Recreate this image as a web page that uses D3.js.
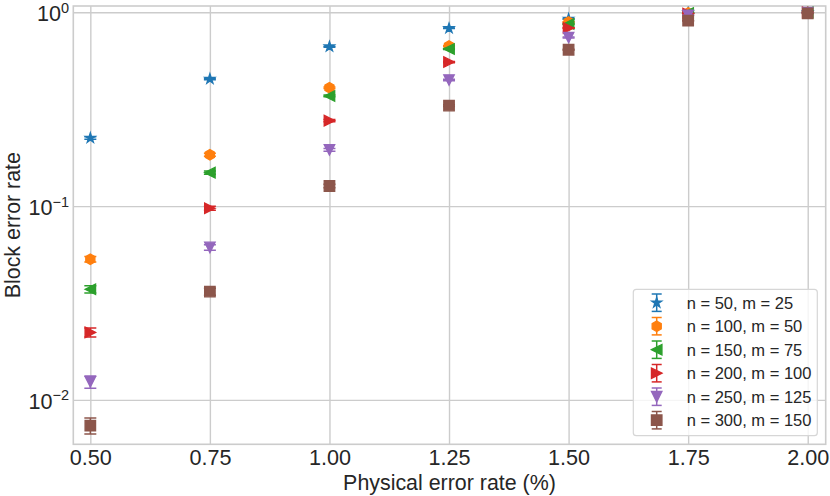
<!DOCTYPE html>
<html><head><meta charset="utf-8">
<script src="https://cdn.jsdelivr.net/npm/d3@7"></script>
<style>
body{margin:0;background:#fff}
svg{display:block;font-family:"Liberation Sans",Arial,sans-serif}
</style>
</head><body><svg id="c" width="830" height="496"></svg>
<script>
// ---------- data ----------
const xValues = [0.5, 0.75, 1.0, 1.25, 1.5, 1.75, 2.0];
const seriesLabels = ["n = 50, m = 25", "n = 100, m = 50", "n = 150, m = 75",
                      "n = 200, m = 100", "n = 250, m = 125", "n = 300, m = 150"];
const bler_n50  = [0.2247, 0.453, 0.665, 0.827, 0.924, 0.995, 1.0];
const bler_n100 = [0.0532, 0.184, 0.408, 0.670, 0.891, 0.993, 1.0];
const bler_n150 = [0.0372, 0.1488, 0.370, 0.647, 0.870, 0.990, 0.9995];
const bler_n200 = [0.0223, 0.0975, 0.276, 0.554, 0.830, 0.985, 0.999];
const bler_n250 = [0.0124, 0.0612, 0.195, 0.447, 0.741, 0.965, 0.997];
const bler_n300 = [0.00736, 0.0362, 0.127, 0.330, 0.641, 0.905, 0.988];
const err_n50  = [0.0034, 0.0041, 0.0039, 0.0031, 0.0022, 0.0006, 0.0];
const err_n100 = [0.0018, 0.0032, 0.0040, 0.0038, 0.0025, 0.0007, 0.0];
const err_n150 = [0.0016, 0.0029, 0.0039, 0.0039, 0.0028, 0.0008, 0.0002];
const err_n200 = [0.0012, 0.0024, 0.0037, 0.0041, 0.0031, 0.0010, 0.0003];
const err_n250 = [0.0009, 0.0020, 0.0032, 0.0041, 0.0036, 0.0015, 0.0005];
const err_n300 = [0.0007, 0.0015, 0.0027, 0.0038, 0.0039, 0.0024, 0.0009];
const xTicks = [0.5, 0.75, 1.0, 1.25, 1.5, 1.75, 2.0];
const xTickLabels = ["0.50", "0.75", "1.00", "1.25", "1.50", "1.75", "2.00"];
const yTicks = [1, 0.1, 0.01];
const yTickExponents = ["0", "\u22121", "\u22122"];
const xLabel = "Physical error rate (%)";
const yLabel = "Block error rate";

// ---------- style ----------
const colors = ["#1f77b4", "#ff7f0e", "#2ca02c", "#d62728", "#9467bd", "#8c564b"];
const shapes = ["star", "hexagon", "triLeft", "triRight", "triDown", "square"];
const values = [bler_n50, bler_n100, bler_n150, bler_n200, bler_n250, bler_n300];
const errors = [err_n50, err_n100, err_n150, err_n200, err_n250, err_n300];
const textColor = "#262626";
const gridColor = "#cccccc";

const L = 73.3, R = 825.7, T = 6, B = 444.3;
const svg = d3.select("#c");

const x = d3.scaleLinear().domain([0.4644, 2.0376]).range([L, R]);
const y = d3.scaleLog().domain([0.0059, 1.0777]).range([B, T]);

const MS = 10.5; // marker size px
function markerPath(shape, s) {
  const h = s / 2;
  const pts = [];
  if (shape === "star") {
    const inner = h * 0.381966;
    for (let k = 0; k < 10; k++) {
      const r = k % 2 === 0 ? h : inner;
      const a = -Math.PI / 2 + k * Math.PI / 5;
      pts.push([r * Math.cos(a), r * Math.sin(a)]);
    }
  } else if (shape === "hexagon") {
    for (let k = 0; k < 6; k++) {
      const a = -Math.PI / 2 + k * Math.PI / 3;
      pts.push([h * Math.cos(a), h * Math.sin(a)]);
    }
  } else if (shape === "triLeft") {
    pts.push([-h, 0], [h, -h], [h, h]);
  } else if (shape === "triRight") {
    pts.push([h, 0], [-h, -h], [-h, h]);
  } else if (shape === "triDown") {
    pts.push([0, h], [-h, -h], [h, -h]);
  } else {
    pts.push([-h, -h], [h, -h], [h, h], [-h, h]);
  }
  return "M" + pts.map(p => p[0].toFixed(2) + "," + p[1].toFixed(2)).join("L") + "Z";
}

// clip
svg.append("defs").append("clipPath").attr("id", "plotclip")
  .append("rect").attr("x", L).attr("y", T).attr("width", R - L).attr("height", B - T);

// grid via axes
const gx = svg.append("g").attr("transform", `translate(0,${B})`)
  .call(d3.axisBottom(x).tickValues(xTicks).tickSize(-(B - T)).tickFormat((d, i) => xTickLabels[i]));
gx.select(".domain").remove();
gx.selectAll(".tick line").attr("stroke", gridColor).attr("stroke-width", 1.4);
gx.selectAll(".tick text").attr("fill", textColor).attr("font-size", 21.6)
  .attr("y", 21.2).attr("dy", 0).attr("font-family", '"Liberation Sans",Arial,sans-serif');

const gy = svg.append("g").attr("transform", `translate(${L},0)`)
  .call(d3.axisLeft(y).tickValues(yTicks).tickSize(-(R - L)).tickFormat(() => ""));
gy.select(".domain").remove();
gy.selectAll(".tick line").attr("stroke", gridColor).attr("stroke-width", 1.4);
gy.selectAll(".tick text").each(function (d, i) {
  const t = d3.select(this);
  t.text(null).attr("x", -4.3).attr("dy", 0).attr("y", 8.3)
    .attr("fill", textColor).attr("text-anchor", "end")
    .attr("font-family", '"Liberation Sans",Arial,sans-serif');
  t.append("tspan").attr("font-size", 21.6).text("10");
  t.append("tspan").attr("font-size", 14.5).attr("dy", -8.3).text(yTickExponents[i]);
});

// spines
svg.append("rect").attr("x", L).attr("y", T).attr("width", R - L).attr("height", B - T)
  .attr("fill", "none").attr("stroke", gridColor).attr("stroke-width", 1.6);

// data
const plot = svg.append("g").attr("clip-path", "url(#plotclip)");
values.forEach((vals, si) => {
  const g = plot.append("g");
  const c = colors[si];
  vals.forEach((v, j) => {
    const e = errors[si][j];
    const cx = x(xValues[j]);
    if (e > 0) {
      const y1 = y(v - e), y2 = y(Math.min(v + e, 1.2));
      g.append("line").attr("x1", cx).attr("x2", cx).attr("y1", y1).attr("y2", y2)
        .attr("stroke", c).attr("stroke-width", 1.5);
      [y1, y2].forEach(yy => g.append("line").attr("x1", cx - 6).attr("x2", cx + 6)
        .attr("y1", yy).attr("y2", yy).attr("stroke", c).attr("stroke-width", 1.5));
    }
  });
  vals.forEach((v, j) => {
    g.append("path").attr("d", markerPath(shapes[si], MS))
      .attr("transform", `translate(${x(xValues[j])},${y(v)})`)
      .attr("fill", c).attr("stroke", c).attr("stroke-width", 1.3).attr("stroke-linejoin", "miter");
  });
});

// axis labels
svg.append("text").attr("x", (L + R) / 2).attr("y", 490).attr("text-anchor", "middle")
  .attr("font-size", 21.4).attr("fill", textColor).text(xLabel);
svg.append("text").attr("transform", `translate(19.8,${(T + B) / 2}) rotate(-90)`)
  .attr("text-anchor", "middle").attr("font-size", 21.4).attr("fill", textColor).text(yLabel);

// legend
const lg = svg.append("g");
lg.append("rect").attr("x", 633.3).attr("y", 289.3).attr("width", 184).attr("height", 146.4)
  .attr("rx", 3).attr("fill", "#fff").attr("fill-opacity", 0.8)
  .attr("stroke", "#d6d6d6").attr("stroke-width", 1.2);
seriesLabels.forEach((lab, i) => {
  const cy = 302.7 + i * 23.5, cx = 656.7, c = colors[i];
  lg.append("line").attr("x1", cx).attr("x2", cx).attr("y1", cy - 8.7).attr("y2", cy + 8.7)
    .attr("stroke", c).attr("stroke-width", 1.5);
  [cy - 8.7, cy + 8.7].forEach(yy => lg.append("line").attr("x1", cx - 5).attr("x2", cx + 5)
    .attr("y1", yy).attr("y2", yy).attr("stroke", c).attr("stroke-width", 1.5));
  lg.append("path").attr("d", markerPath(shapes[i], MS)).attr("transform", `translate(${cx},${cy})`)
    .attr("fill", c).attr("stroke", c).attr("stroke-width", 1.3);
  lg.append("text").attr("x", 686.7).attr("y", cy + 5.8).attr("font-size", 16.5)
    .attr("fill", textColor).text(lab);
});
</script>
</body></html>
